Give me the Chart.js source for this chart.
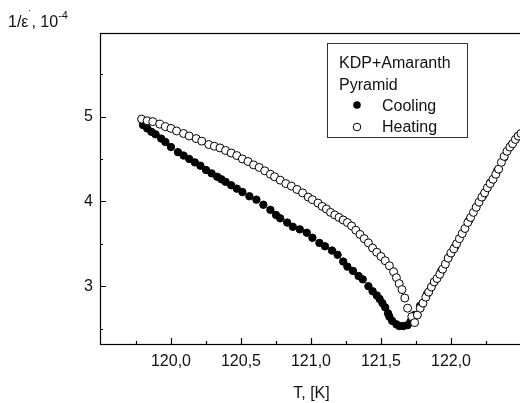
<!DOCTYPE html>
<html>
<head>
<meta charset="utf-8">
<script src="https://cdn.jsdelivr.net/npm/chart.js@4.4.0/dist/chart.umd.min.js"></script>
<style>
    html, body { margin: 0; padding: 0; background: #fff; overflow: hidden; }
    #wrap { width: 530px; height: 403px; }
</style>
</head>
<body>
<div id="wrap"><canvas id="epsChart" width="530" height="403"></canvas></div>
<script>
// Нагрев: температура (K) и 1/ε' (10^-4)
const heatingT = [
    119.79, 119.83, 119.87, 119.92, 119.96, 120.00, 120.04, 120.09, 120.13, 120.18,
    120.22, 120.27, 120.31, 120.35, 120.39, 120.43, 120.47, 120.51, 120.55, 120.59,
    120.63, 120.67, 120.71, 120.74, 120.78, 120.82, 120.86, 120.90, 120.94, 120.98,
    121.01, 121.05, 121.08, 121.11, 121.14, 121.17, 121.20, 121.23, 121.26, 121.29,
    121.32, 121.35, 121.38, 121.41, 121.44, 121.47, 121.50, 121.53, 121.56, 121.59,
    121.61, 121.63, 121.65, 121.67, 121.69, 121.72, 121.74,
    121.76, 121.78, 121.80, 121.82, 121.84, 121.86, 121.88, 121.90, 121.92, 121.94,
    121.96, 121.98, 122.00, 122.02, 122.04, 122.06, 122.08, 122.10, 122.12, 122.14,
    122.16, 122.18, 122.20, 122.22, 122.24, 122.26, 122.28, 122.30, 122.32, 122.34,
    122.36, 122.38, 122.40, 122.42, 122.44, 122.46, 122.48, 122.50
];
const heatingV = [
    4.97, 4.95, 4.94, 4.91, 4.88, 4.86, 4.83, 4.80, 4.77, 4.74,
    4.71, 4.67, 4.65, 4.63, 4.60, 4.57, 4.54, 4.50, 4.47, 4.43,
    4.40, 4.36, 4.32, 4.29, 4.25, 4.21, 4.18, 4.14, 4.10, 4.05,
    4.02, 3.98, 3.94, 3.91, 3.87, 3.84, 3.81, 3.78, 3.75, 3.71,
    3.66, 3.61, 3.56, 3.51, 3.45, 3.40, 3.35, 3.30, 3.24, 3.17,
    3.10, 3.03, 2.96, 2.86, 2.74, 2.64, 2.57,
    2.66, 2.74, 2.80, 2.87, 2.93, 2.99, 3.05, 3.09, 3.14, 3.20,
    3.26, 3.33, 3.39, 3.44, 3.50, 3.56, 3.62, 3.68, 3.75, 3.81,
    3.87, 3.93, 3.99, 4.05, 4.10, 4.16, 4.21, 4.26, 4.32, 4.38,
    4.46, 4.53, 4.59, 4.64, 4.68, 4.73, 4.77, 4.80
];

// Охлаждение
const coolingT = [
    119.80, 119.83, 119.86, 119.89, 119.93, 119.96, 120.00, 120.05, 120.09, 120.13,
    120.17, 120.21, 120.25, 120.29, 120.33, 120.36, 120.39, 120.43, 120.47, 120.51,
    120.56, 120.61, 120.66, 120.71, 120.75, 120.78, 120.83, 120.87, 120.92, 120.97,
    121.01, 121.06, 121.10, 121.15, 121.19, 121.23, 121.26, 121.30, 121.34, 121.37,
    121.41, 121.44, 121.47, 121.49, 121.51, 121.53, 121.55, 121.56, 121.58, 121.61,
    121.63, 121.66, 121.69, 121.71,
    121.74, 121.78, 121.83, 121.88, 121.93, 121.98, 122.03, 122.08, 122.13, 122.18,
    122.23, 122.28, 122.33, 122.38, 122.43, 122.48
];
const coolingV = [
    4.90, 4.86, 4.82, 4.79, 4.74, 4.70, 4.64, 4.58, 4.54, 4.50,
    4.46, 4.42, 4.37, 4.33, 4.29, 4.26, 4.23, 4.19, 4.15, 4.11,
    4.06, 4.02, 3.96, 3.90, 3.84, 3.80, 3.75, 3.70, 3.67, 3.63,
    3.57, 3.51, 3.47, 3.42, 3.37, 3.29, 3.23, 3.18, 3.12, 3.08,
    3.00, 2.94, 2.89, 2.85, 2.80, 2.75, 2.68, 2.64, 2.59, 2.55,
    2.53, 2.53, 2.54, 2.58,
    2.66, 2.77, 2.91, 3.05, 3.18, 3.33, 3.47, 3.62, 3.78, 3.93,
    4.07, 4.22, 4.36, 4.52, 4.66, 4.77
];

// Деления осей
const xMajorTicks = [120.0, 120.5, 121.0, 121.5, 122.0];
const xMinorTicks = [119.75, 120.25, 120.75, 121.25, 121.75, 122.25];
const yMajorTicks = [3, 4, 5];
const yMinorTicks = [2.5, 3.5, 4.5, 5.5];

const FONT = 'Arial, "Liberation Sans", sans-serif';

function toPoints(xs, ys) {
    return xs.map((x, i) => ({ x: x, y: ys[i] }));
}

// Рамка, внутренние засечки, подписи осей и легенда
const framePlugin = {
    id: 'frame',
    afterDraw(chart) {
        const ctx = chart.ctx;
        const a = chart.chartArea;
        const xs = chart.scales.x;
        const ys = chart.scales.y;
        ctx.save();
        ctx.strokeStyle = '#000';
        ctx.lineWidth = 1.2;
        ctx.strokeRect(a.left + 0.5, a.top + 0.5, a.right - a.left, a.bottom - a.top);

        ctx.beginPath();
        xMajorTicks.forEach(v => {
            const px = Math.round(xs.getPixelForValue(v)) + 0.5;
            ctx.moveTo(px, a.bottom); ctx.lineTo(px, a.bottom - 6);
        });
        xMinorTicks.forEach(v => {
            const px = Math.round(xs.getPixelForValue(v)) + 0.5;
            ctx.moveTo(px, a.bottom); ctx.lineTo(px, a.bottom - 3);
        });
        yMajorTicks.forEach(v => {
            const py = Math.round(ys.getPixelForValue(v)) + 0.5;
            ctx.moveTo(a.left, py); ctx.lineTo(a.left + 6, py);
        });
        yMinorTicks.forEach(v => {
            const py = Math.round(ys.getPixelForValue(v)) + 0.5;
            ctx.moveTo(a.left, py); ctx.lineTo(a.left + 3, py);
        });
        ctx.stroke();

        ctx.fillStyle = '#111';
        ctx.textBaseline = 'alphabetic';

        // подпись оси X
        ctx.font = '16px ' + FONT;
        ctx.textAlign = 'center';
        ctx.fillText('T, [K]', (a.left + 521) / 2 + 1, 398);

        // подпись оси Y: 1/ε', 10^-4
        ctx.textAlign = 'left';
        let x = 8;
        ctx.font = '16px ' + FONT;
        ctx.fillText('1/ε', x, 27);
        x += ctx.measureText('1/ε').width;
        ctx.font = '10px ' + FONT;
        ctx.fillText('\u02D9', x, 18);
        x += 3;
        ctx.font = '16px ' + FONT;
        ctx.fillText(', 10', x, 27);
        x += ctx.measureText(', 10').width;
        ctx.font = '11px ' + FONT;
        ctx.fillText('-4', x, 19);

        // легенда
        ctx.lineWidth = 1;
        ctx.strokeStyle = '#333';
        ctx.strokeRect(327.5, 43.5, 140, 94);
        ctx.font = '16px ' + FONT;
        ctx.fillStyle = '#111';
        ctx.fillText('KDP+Amaranth', 339, 68);
        ctx.fillText('Pyramid', 339, 90);
        ctx.fillText('Cooling', 382, 111);
        ctx.fillText('Heating', 382, 132);

        ctx.beginPath();
        ctx.arc(357, 105, 3.8, 0, Math.PI * 2);
        ctx.fillStyle = '#000';
        ctx.fill();
        ctx.beginPath();
        ctx.arc(357, 127, 3.8, 0, Math.PI * 2);
        ctx.fillStyle = '#fff';
        ctx.fill();
        ctx.strokeStyle = '#000';
        ctx.stroke();
        ctx.restore();
    }
};

document.addEventListener('DOMContentLoaded', function() {
    const ctx = document.getElementById('epsChart').getContext('2d');
    window.epsChart = new Chart(ctx, {
        type: 'scatter',
        data: {
            datasets: [
                {
                    label: 'Heating',
                    data: toPoints(heatingT, heatingV),
                    pointStyle: 'circle',
                    pointRadius: 4,
                    backgroundColor: '#fff',
                    borderColor: '#000',
                    borderWidth: 1,
                    order: 1
                },
                {
                    label: 'Cooling',
                    data: toPoints(coolingT, coolingV),
                    pointStyle: 'circle',
                    pointRadius: 3.7,
                    backgroundColor: '#000',
                    borderColor: '#000',
                    borderWidth: 1,
                    order: 2
                }
            ]
        },
        options: {
            responsive: false,
            animation: false,
            devicePixelRatio: 1,
            layout: { padding: { top: 33, right: 9, bottom: 0, left: 0 } },
            plugins: {
                legend: { display: false },
                tooltip: { enabled: false }
            },
            scales: {
                x: {
                    type: 'linear',
                    min: 119.493,
                    max: 122.50,
                    grid: { display: false, drawTicks: false },
                    border: { display: false },
                    afterBuildTicks: s => { s.ticks = xMajorTicks.map(v => ({ value: v })); },
                    afterFit: s => { s.height = 59; },
                    ticks: {
                        padding: 8,
                        color: '#111',
                        font: { family: FONT, size: 16 },
                        maxRotation: 0,
                        autoSkip: false,
                        callback: v => v.toFixed(1).replace('.', ',')
                    }
                },
                y: {
                    type: 'linear',
                    min: 2.318,
                    max: 5.985,
                    grid: { display: false, drawTicks: false },
                    border: { display: false },
                    afterBuildTicks: s => { s.ticks = yMajorTicks.map(v => ({ value: v })); },
                    afterFit: s => { s.width = 100; },
                    ticks: {
                        padding: 7,
                        color: '#111',
                        font: { family: FONT, size: 16 },
                        autoSkip: false,
                        callback: v => String(v)
                    }
                }
            }
        },
        plugins: [framePlugin]
    });
});
</script>
</body>
</html>
